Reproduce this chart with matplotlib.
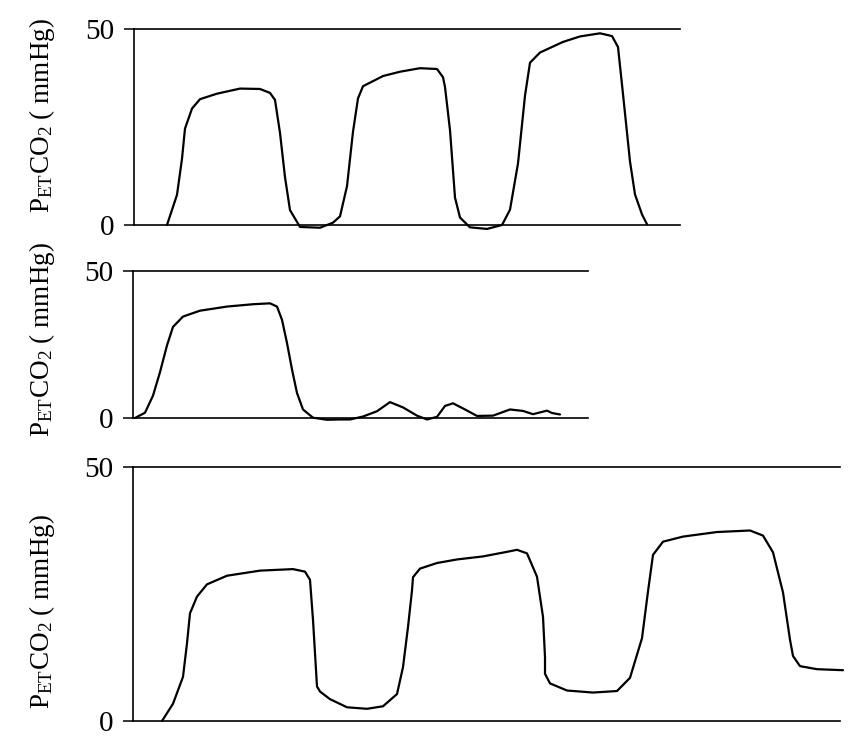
import matplotlib
matplotlib.use('Agg')
import matplotlib.pyplot as plt

plt.rcParams['font.family'] = ['Liberation Serif', 'DejaVu Serif']
plt.rcParams['mathtext.fontset'] = 'custom'
plt.rcParams['mathtext.rm'] = 'Liberation Serif'
plt.rcParams['mathtext.it'] = 'Liberation Serif:italic'

# time (arbitrary units from the trace start) and PETCO2 (mmHg)
t1 = [33, 43, 48, 51, 58, 66, 83, 106, 126, 136, 141, 146, 151, 156, 166, 186, 199,
      206, 213, 219, 224, 229, 249, 266, 286, 303, 309, 311, 316, 321, 326, 336, 353,
      368, 376, 384, 391, 396, 406, 429, 446, 466, 478, 484, 489, 496, 501, 508, 513]
co2_1 = [0.0, 7.7, 16.9, 24.6, 29.7, 32.1, 33.5, 34.8, 34.7, 33.7, 31.9, 23.5, 12.2,
         3.8, -0.5, -0.7, 0.6, 2.2, 9.9, 23.8, 32.3, 35.4, 38.0, 39.1, 40.0, 39.8,
         37.7, 35.2, 24.2, 7.0, 1.9, -0.6, -1.0, 0.0, 3.9, 15.7, 33.0, 41.4, 44.0,
         46.7, 48.1, 48.9, 48.2, 45.4, 33.4, 16.2, 7.8, 2.7, 0.2]

t2 = [2, 12, 20, 27, 34, 40, 50, 67, 94, 120, 137, 144, 149, 154, 159, 164, 170,
      180, 194, 207, 217, 230, 244, 257, 270, 284, 294, 304, 312, 320, 332, 344,
      360, 377, 390, 400, 414, 419, 427]
co2_2 = [0.0, 1.8, 7.6, 15.6, 24.7, 31.0, 34.5, 36.5, 37.9, 38.7, 39.0, 37.9, 33.4,
         25.5, 16.5, 8.5, 2.9, 0.1, -0.6, -0.5, -0.5, 0.5, 2.3, 5.4, 3.6, 0.8, -0.5,
         0.4, 4.1, 5.0, 2.9, 0.7, 0.8, 2.9, 2.4, 1.3, 2.5, 1.7, 1.2]

t3 = [29, 40, 50, 54, 57, 64, 74, 94, 127, 160, 172, 177, 180, 184, 187, 197, 214,
      234, 250, 264, 270, 275, 279, 280, 287, 304, 324, 350, 374, 384, 394, 404,
      410, 412, 412, 417, 434, 460, 484, 497, 509, 515, 520, 530, 550, 584, 617,
      630, 640, 650, 657, 660, 667, 684, 710]
co2_3 = [0.0, 3.4, 8.7, 15.3, 21.2, 24.5, 26.9, 28.6, 29.6, 29.9, 29.4, 27.8, 19.9,
         6.8, 5.8, 4.3, 2.7, 2.4, 2.9, 5.3, 10.6, 18.5, 25.7, 28.3, 30.0, 31.1, 31.8,
         32.4, 33.3, 33.7, 33.0, 28.4, 20.5, 12.6, 9.3, 7.4, 6.0, 5.6, 5.9, 8.5,
         16.3, 25.5, 32.7, 35.3, 36.3, 37.2, 37.5, 36.5, 33.2, 25.3, 16.0, 12.8,
         10.8, 10.2, 10.0]

yticks = [0, 50]
ylabel = 'P$_{\\mathrm{ET}}$CO$_2$ ( mmHg)'

fig = plt.figure(figsize=(8.6, 7.4), dpi=100)
W, H = 860, 740

# panel boxes in pixels: left, top, right, bottom
boxes = [(134, 29, 680, 225), (133, 271, 588, 418), (133, 467, 840, 721)]
series = [(t1, co2_1), (t2, co2_2), (t3, co2_3)]
label_y = [116, 340, 612]

for (l, tp, r, b), (t, v), ly in zip(boxes, series, label_y):
    ax = fig.add_axes([l / W, 1 - b / H, (r - l) / W, (b - tp) / H])
    ax.plot(t, v, color='black', lw=1.6, clip_on=False,
            solid_capstyle='round', solid_joinstyle='round')
    ax.set_xlim(0, r - l)
    ax.set_ylim(0, 50)
    ax.set_yticks(yticks)
    ax.set_xticks([])
    ax.tick_params(axis='y', length=7, width=1.1, pad=7, labelsize=21)
    ax.spines['right'].set_visible(False)
    for s in ['left', 'top', 'bottom']:
        ax.spines[s].set_linewidth(1.2)
    ax.patch.set_alpha(0)
    fig.text(42 / W, 1 - ly / H, ylabel, rotation=90, ha='center', va='center', fontsize=19.5)

fig.savefig('out.png', dpi=100, facecolor='white')
